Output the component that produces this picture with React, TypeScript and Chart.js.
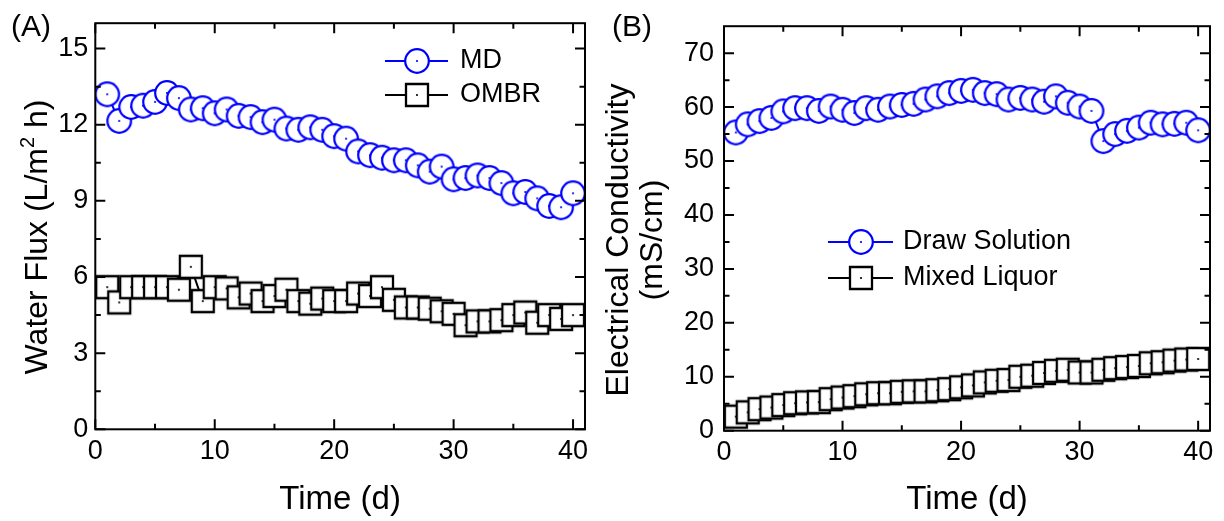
import React, { useEffect, useRef } from 'react';
import { Chart, registerables } from 'chart.js';

Chart.register(...registerables);

const FONT = '"Liberation Sans", Arial, Helvetica, sans-serif';
const BLUE = '#0000ff';
const BLACK = '#000000';

// ---------- data ----------
const days = [1, 2, 3, 4, 5, 6, 7, 8, 9, 10, 11, 12, 13, 14, 15, 16, 17, 18, 19, 20,
  21, 22, 23, 24, 25, 26, 27, 28, 29, 30, 31, 32, 33, 34, 35, 36, 37, 38, 39, 40];

// Panel A: water flux (L/m2 h)
const mdFlux = [13.2, 12.15, 12.7, 12.75, 12.9, 13.25, 13.05, 12.6, 12.65, 12.45,
  12.6, 12.35, 12.3, 12.1, 12.2, 11.85, 11.8, 11.9, 11.8, 11.55,
  11.45, 10.95, 10.8, 10.7, 10.6, 10.6, 10.4, 10.15, 10.35, 9.85,
  9.9, 10.0, 9.9, 9.7, 9.3, 9.35, 9.1, 8.8, 8.75, 9.3];
const ombrFlux = [5.6, 5.0, 5.6, 5.6, 5.6, 5.6, 5.5, 6.4, 5.05, 5.6,
  5.55, 5.2, 5.35, 5.05, 5.25, 5.5, 5.05, 4.95, 5.15, 5.05,
  5.05, 5.35, 5.25, 5.6, 5.1, 4.8, 4.8, 4.75, 4.65, 4.55,
  4.1, 4.25, 4.25, 4.3, 4.5, 4.6, 4.2, 4.5, 4.35, 4.5];

// Panel B: electrical conductivity (mS/cm)
const drawSolution = [55.3, 56.8, 57.4, 58.0, 59.2, 59.8, 59.8, 59.3, 60.1, 59.5,
  58.9, 59.8, 59.5, 60.1, 60.4, 60.6, 61.4, 62.0, 62.6, 63.0,
  63.2, 62.6, 62.4, 61.4, 61.7, 61.4, 61.0, 62.0, 60.8, 60.1,
  59.3, 53.7, 55.0, 55.6, 56.2, 57.1, 56.8, 56.9, 57.1, 55.7];
const mixedLiquor = [2.6, 3.4, 4.0, 4.3, 4.75, 5.1, 5.25, 5.3, 5.85, 6.15,
  6.4, 6.75, 6.95, 6.95, 7.2, 7.3, 7.3, 7.5, 7.7, 8.05,
  8.4, 8.95, 9.25, 9.4, 10.0, 10.2, 10.7, 11.1, 11.3, 10.8,
  10.8, 11.3, 11.6, 11.8, 12.0, 12.5, 12.7, 13.0, 13.2, 13.3];

// ticks
const xTicks = [0, 10, 20, 30, 40];
const xMinorTicks = [5, 15, 25, 35];
const fluxTicks = [0, 3, 6, 9, 12, 15];
const fluxMinorTicks = [1.5, 4.5, 7.5, 10.5, 13.5];
const ecTicks = [0, 10, 20, 30, 40, 50, 60, 70];
const ecMinorTicks = [5, 15, 25, 35, 45, 55, 65];

// ---------- markers ----------
function makeMarker(shape: 'circle' | 'square', color: string): HTMLCanvasElement {
  const size = 30;
  const c = document.createElement('canvas');
  c.width = size;
  c.height = size;
  const g = c.getContext('2d')!;
  const m = size / 2;
  g.fillStyle = '#ffffff';
  g.strokeStyle = color;
  if (shape === 'circle') {
    g.lineWidth = 2.2;
    g.beginPath();
    g.arc(m, m, 11.8, 0, Math.PI * 2);
    g.fill();
    g.stroke();
  } else {
    g.lineWidth = 2.3;
    g.beginPath();
    g.rect(m - 11, m - 11, 22, 22);
    g.fill();
    g.stroke();
  }
  g.fillStyle = color;
  g.beginPath();
  g.arc(m, m, 1.1, 0, Math.PI * 2);
  g.fill();
  return c;
}

// ---------- frame / ticks / legend / labels plugin ----------
const panelPlugin = {
  id: 'panel',
  afterDraw(chart: any, _args: any, opts: any) {
    const { ctx } = chart;
    const { left, right, top, bottom } = chart.chartArea;
    const xs = chart.scales.x;
    const ys = chart.scales.y;
    ctx.save();
    ctx.strokeStyle = BLACK;
    ctx.lineWidth = 2;
    ctx.lineCap = 'butt';
    ctx.beginPath();
    const xTick = (vals: number[], len: number) => {
      vals.forEach((v) => {
        const p = xs.getPixelForValue(v);
        ctx.moveTo(p, bottom);
        ctx.lineTo(p, bottom - len);
        ctx.moveTo(p, top);
        ctx.lineTo(p, top + len);
      });
    };
    const yTick = (vals: number[], len: number) => {
      vals.forEach((v) => {
        const p = ys.getPixelForValue(v);
        ctx.moveTo(left, p);
        ctx.lineTo(left + len, p);
        ctx.moveTo(right, p);
        ctx.lineTo(right - len, p);
      });
    };
    xTick(opts.xMajor, 10);
    xTick(opts.xMinor, 5.5);
    yTick(opts.yMajor, 10);
    yTick(opts.yMinor, 5.5);
    ctx.stroke();
    ctx.strokeRect(left, top, right - left, bottom - top);

    // legend
    const lg = opts.legend;
    lg.rows.forEach((y: number, i: number) => {
      const ds = chart.data.datasets[i];
      ctx.strokeStyle = ds.borderColor;
      ctx.lineWidth = 2;
      ctx.beginPath();
      ctx.moveTo(lg.x1, y);
      ctx.lineTo(lg.x2, y);
      ctx.stroke();
      const img = ds.pointStyle as HTMLCanvasElement;
      ctx.drawImage(img, lg.mx - img.width / 2, y - img.height / 2);
      ctx.fillStyle = BLACK;
      ctx.font = `27px ${FONT}`;
      ctx.textAlign = 'left';
      ctx.textBaseline = 'middle';
      ctx.fillText(ds.label, lg.tx, y);
    });

    // panel label
    ctx.fillStyle = BLACK;
    ctx.font = `30px ${FONT}`;
    ctx.textAlign = 'left';
    ctx.textBaseline = 'alphabetic';
    ctx.fillText(opts.panelLabel.text, opts.panelLabel.x, opts.panelLabel.y);

    // y title (rotated, may contain superscript)
    const yt = opts.yTitle;
    yt.lines.forEach((line: any) => {
      let total = 0;
      line.segs.forEach((s: any) => {
        ctx.font = `${s.size}px ${FONT}`;
        total += ctx.measureText(s.text).width;
      });
      ctx.save();
      ctx.translate(line.x, yt.cy);
      ctx.rotate(-Math.PI / 2);
      ctx.textAlign = 'left';
      ctx.textBaseline = 'alphabetic';
      let x = -total / 2;
      line.segs.forEach((s: any) => {
        ctx.font = `${s.size}px ${FONT}`;
        ctx.fillText(s.text, x, -s.rise);
        x += ctx.measureText(s.text).width;
      });
      ctx.restore();
    });
    ctx.restore();
  },
};

interface SeriesSpec { label: string; values: number[]; color: string; shape: 'circle' | 'square'; }
interface PanelSpec {
  width: number;
  series: SeriesSpec[];
  yMax: number;
  yTicks: number[];
  yMinor: number[];
  yAxisWidth: number;
  xAxisHeight: number;
  padTop: number;
  padRight: number;
  yTickPad: number;
  legend: any;
  panelLabel: any;
  yTitle: any;
}

function buildChart(canvas: HTMLCanvasElement, spec: PanelSpec) {
  const datasets = spec.series.map((s) => ({
    label: s.label,
    data: days.map((d, i) => ({ x: d, y: s.values[i] })),
    borderColor: s.color,
    backgroundColor: '#ffffff',
    borderWidth: 2,
    pointStyle: makeMarker(s.shape, s.color),
    pointRadius: 12,
    pointHoverRadius: 12,
    fill: false,
    tension: 0,
  }));
  return new Chart(canvas, {
    type: 'line',
    data: { datasets } as any,
    options: {
      responsive: false,
      animation: false,
      devicePixelRatio: 1,
      events: [],
      layout: { padding: { left: 0, top: spec.padTop, right: spec.padRight, bottom: 0 } },
      plugins: {
        legend: { display: false },
        tooltip: { enabled: false },
        panel: {
          xMajor: xTicks,
          xMinor: xMinorTicks,
          yMajor: spec.yTicks,
          yMinor: spec.yMinor,
          legend: spec.legend,
          panelLabel: spec.panelLabel,
          yTitle: spec.yTitle,
        },
      } as any,
      scales: {
        x: {
          type: 'linear',
          min: 0,
          max: 41,
          afterBuildTicks: (ax: any) => { ax.ticks = xTicks.map((v) => ({ value: v })); },
          afterFit: (ax: any) => { ax.height = spec.xAxisHeight; },
          grid: { display: false, drawTicks: false },
          border: { display: false },
          ticks: { color: BLACK, font: { family: FONT, size: 27 }, padding: 6, maxRotation: 0, autoSkip: false },
          title: { display: true, text: 'Time (d)', color: BLACK, font: { family: FONT, size: 33 }, padding: { top: 0, bottom: 1 } },
        },
        y: {
          type: 'linear',
          min: 0,
          max: spec.yMax,
          afterBuildTicks: (ax: any) => { ax.ticks = spec.yTicks.map((v) => ({ value: v })); },
          afterFit: (ax: any) => { ax.width = spec.yAxisWidth; },
          grid: { display: false, drawTicks: false },
          border: { display: false },
          ticks: { color: BLACK, font: { family: FONT, size: 27 }, padding: spec.yTickPad, autoSkip: false },
          title: { display: false },
        },
      } as any,
    },
    plugins: [panelPlugin as any],
  });
}

const panelA: PanelSpec = {
  width: 600,
  series: [
    { label: 'MD', values: mdFlux, color: BLUE, shape: 'circle' },
    { label: 'OMBR', values: ombrFlux, color: BLACK, shape: 'square' },
  ],
  yMax: 16,
  yTicks: fluxTicks,
  yMinor: fluxMinorTicks,
  yAxisWidth: 95.3,
  xAxisHeight: 91.7,
  padTop: 17,
  padRight: 15,
  yTickPad: 7,
  legend: { x1: 385, x2: 448, mx: 417, tx: 460, rows: [61, 95] },
  panelLabel: { text: '(A)', x: 11, y: 35.5 },
  yTitle: {
    cy: 237,
    lines: [
      {
        x: 46.5,
        segs: [
          { text: 'Water Flux (L/m', size: 32, rise: 0 },
          { text: '2', size: 20, rise: 13 },
          { text: ' h)', size: 32, rise: 0 },
        ],
      },
    ],
  },
};

const panelB: PanelSpec = {
  width: 624,
  series: [
    { label: 'Draw Solution', values: drawSolution, color: BLUE, shape: 'circle' },
    { label: 'Mixed Liquor', values: mixedLiquor, color: BLACK, shape: 'square' },
  ],
  yMax: 75,
  yTicks: ecTicks,
  yMinor: ecMinorTicks,
  yAxisWidth: 124,
  xAxisHeight: 90.3,
  padTop: 20,
  padRight: 10,
  yTickPad: 10,
  legend: { x1: 228, x2: 293, mx: 261, tx: 303, rows: [242, 278] },
  panelLabel: { text: '(B)', x: 12, y: 35.5 },
  yTitle: {
    cy: 240,
    lines: [
      { x: 28, segs: [{ text: 'Electrical Conductivity', size: 32, rise: 0 }] },
      { x: 62, segs: [{ text: '(mS/cm)', size: 32, rise: 0 }] },
    ],
  },
};

function Panel({ spec, left }: { spec: PanelSpec; left: number }) {
  const ref = useRef<HTMLCanvasElement>(null);
  useEffect(() => {
    const chart = buildChart(ref.current!, spec);
    return () => chart.destroy();
  }, []);
  return (
    <canvas
      ref={ref}
      width={spec.width}
      height={521}
      style={{ position: 'absolute', left, top: 0, width: spec.width, height: 521 }}
    />
  );
}

export default function App() {
  return (
    <div style={{ position: 'fixed', left: 0, top: 0, width: 1224, height: 521, background: '#ffffff', overflow: 'hidden' }}>
      <Panel spec={panelA} left={0} />
      <Panel spec={panelB} left={600} />
    </div>
  );
}
